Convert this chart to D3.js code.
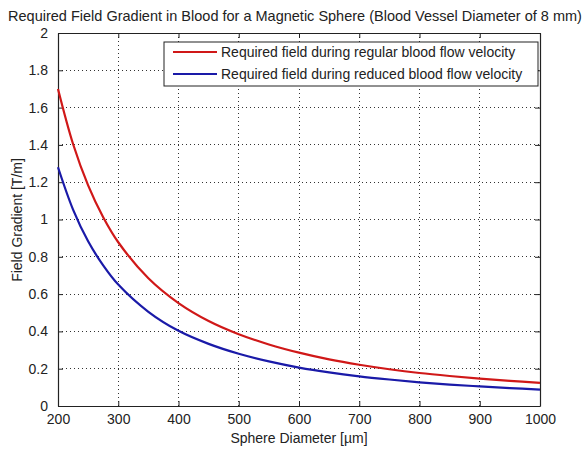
<!DOCTYPE html>
<html><head><meta charset="utf-8">
<script src="https://cdn.jsdelivr.net/npm/d3@7"></script>
<style>
body{margin:0;background:#fff;}
text{font-family:"Liberation Sans",Arial,sans-serif;fill:#222;}
</style></head>
<body><svg id="c" width="586" height="450"></svg>
<script>
const diameters = [200,225,250,275,300,350,400,450,500,550,600,650,700,750,800,850,900,950,1000];
const regularField = [1.70,1.405,1.183,1.012,0.878,0.685,0.552,0.456,0.385,0.33,0.286,0.25,0.221,0.197,0.177,0.161,0.147,0.135,0.124];
const reducedField = [1.28,1.053,0.883,0.754,0.651,0.505,0.403,0.333,0.28,0.239,0.206,0.18,0.159,0.142,0.127,0.115,0.105,0.096,0.088];
const xTicks = [200,300,400,500,600,700,800,900,1000];
const yTicks = [0,0.2,0.4,0.6,0.8,1,1.2,1.4,1.6,1.8,2];
const seriesNames = ["Required field during regular blood flow velocity","Required field during reduced blood flow velocity"];
const seriesColors = ["#d01818","#1a1aa8"];
const titleText = "Required Field Gradient in Blood for a Magnetic Sphere (Blood Vessel Diameter of 8 mm)";
const xLabel = "Sphere Diameter [\u00b5m]";
const yLabel = "Field Gradient [T/m]";

const svg = d3.select("#c");
const L=58, R=540, T=33, B=406;
const x = d3.scaleLinear().domain([200,1000]).range([L,R]);
const y = d3.scaleLinear().domain([0,2]).range([B,T]);

// grid
const g = svg.append("g");
g.selectAll(".gx").data(xTicks.slice(1,-1)).enter().append("line")
 .attr("x1",d=>x(d)).attr("x2",d=>x(d)).attr("y1",T).attr("y2",B)
 .attr("stroke","#333").attr("stroke-width",1).attr("stroke-dasharray","1,3").attr("shape-rendering","crispEdges");
g.selectAll(".gy").data(yTicks.slice(1,-1)).enter().append("line")
 .attr("y1",d=>y(d)).attr("y2",d=>y(d)).attr("x1",L).attr("x2",R)
 .attr("stroke","#333").attr("stroke-width",1).attr("stroke-dasharray","1,3").attr("shape-rendering","crispEdges");

// axes
const xa = svg.append("g").attr("transform",`translate(0,${B})`)
 .call(d3.axisBottom(x).tickValues(xTicks).tickSizeInner(-5).tickSizeOuter(0).tickPadding(8).tickFormat(d3.format("d")));
const xt = svg.append("g").attr("transform",`translate(0,${T})`)
 .call(d3.axisTop(x).tickValues(xTicks).tickSizeInner(-5).tickSizeOuter(0).tickFormat(""));
const ya = svg.append("g").attr("transform",`translate(${L},0)`)
 .call(d3.axisLeft(y).tickValues(yTicks).tickSizeInner(-5).tickSizeOuter(0).tickPadding(10).tickFormat(d=>d3.format("~g")(d)));
const yr = svg.append("g").attr("transform",`translate(${R},0)`)
 .call(d3.axisRight(y).tickValues(yTicks).tickSizeInner(-5).tickSizeOuter(0).tickFormat(""));
[xa,xt,ya,yr].forEach(a=>{
  a.selectAll("path").attr("stroke","#222").attr("stroke-width",1.2);
  a.selectAll("line").attr("stroke","#222");
  a.selectAll("text").attr("font-size",14).attr("fill","#222").attr("font-family","'Liberation Sans',Arial,sans-serif");
});

// curves
const line = d3.line().x((d,i)=>x(diameters[i])).y(d=>y(d)).curve(d3.curveCatmullRom.alpha(0.5));
[regularField,reducedField].forEach((s,k)=>{
  svg.append("path").attr("d",line(s)).attr("fill","none").attr("stroke",seriesColors[k]).attr("stroke-width",2.2);
});

// legend
const lg = svg.append("g");
lg.append("rect").attr("x",164).attr("y",42).attr("width",374).attr("height",44)
 .attr("fill","#fff").attr("stroke","#222").attr("stroke-width",1);
seriesNames.forEach((n,k)=>{
  const yy = 52+k*22;
  lg.append("line").attr("x1",173).attr("x2",217).attr("y1",yy).attr("y2",yy).attr("stroke",seriesColors[k]).attr("stroke-width",2.2);
  lg.append("text").attr("x",221).attr("y",yy+5).attr("font-size",14).text(n);
});

// titles
svg.append("text").attr("x",295).attr("y",21).attr("text-anchor","middle").attr("font-size",14.5).text(titleText);
svg.append("text").attr("x",299).attr("y",443).attr("text-anchor","middle").attr("font-size",14).text(xLabel);
svg.append("text").attr("transform","translate(22,220) rotate(-90)").attr("text-anchor","middle").attr("font-size",14).text(yLabel);
</script></body></html>
